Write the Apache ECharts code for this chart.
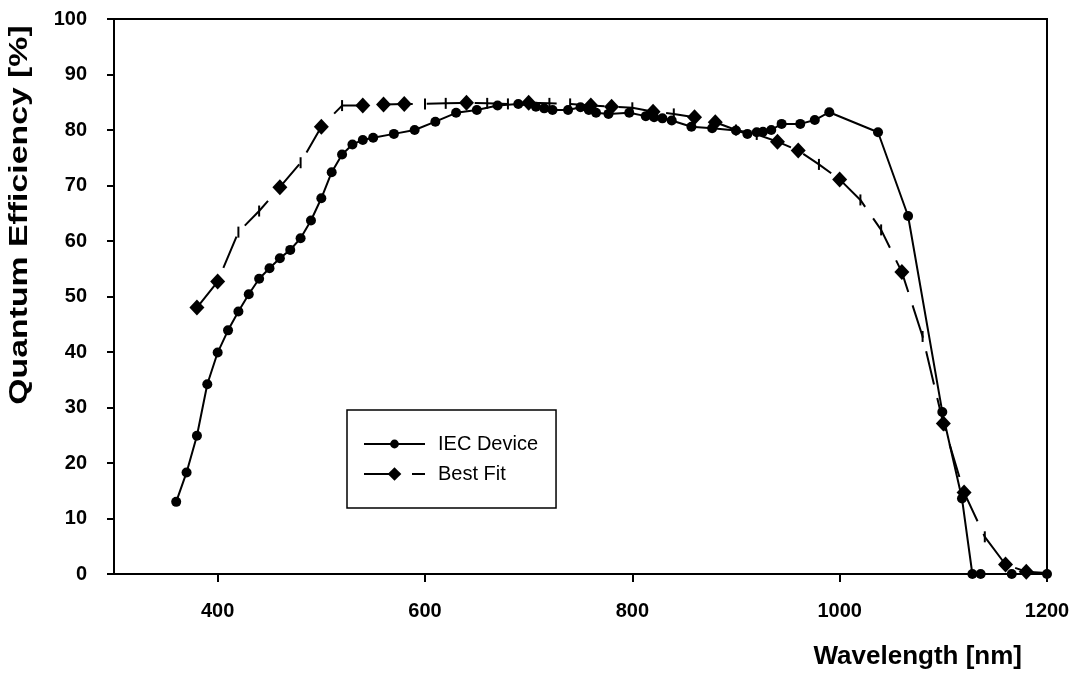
<!DOCTYPE html>
<html>
<head>
<meta charset="utf-8">
<script src="https://cdn.jsdelivr.net/npm/echarts@6.0.0/dist/echarts.min.js"></script>
<style>
  html, body { margin: 0; padding: 0; background: #fff; }
  #chart { width: 1081px; height: 673px; }
</style>
</head>
<body>
<div id="chart"></div>
<script>
// IEC device measurement
const iecWavelength = [360, 370, 380, 390, 400, 410, 420, 430, 440, 450, 460, 470, 480, 490, 500,
  510, 520, 530, 540, 550, 570, 590, 610, 630, 650, 670, 690, 707, 715, 723, 738, 750, 758, 765,
  777, 797, 813, 821, 829, 838, 857, 877, 900, 911, 920, 926, 934, 944, 962, 976, 990, 1037,
  1066, 1099, 1118, 1128, 1136, 1166, 1200];
const iecQE = [13.0, 18.3, 24.9, 34.2, 39.9, 43.9, 47.3, 50.4, 53.2, 55.1, 56.9, 58.4, 60.5, 63.7, 67.7,
  72.4, 75.6, 77.4, 78.2, 78.6, 79.3, 80.0, 81.5, 83.1, 83.6, 84.4, 84.7, 84.2, 83.9, 83.6, 83.6, 84.1, 83.6, 83.1,
  82.9, 83.1, 82.5, 82.3, 82.1, 81.7, 80.6, 80.3, 79.9, 79.3, 79.6, 79.7, 80.0, 81.1, 81.1, 81.8, 83.2, 79.6,
  64.5, 29.2, 13.6, 0, 0, 0, 0];

// best fit curve, every 20 nm
const fitWavelength = [380, 400, 420, 440, 460, 480, 500, 520, 540, 560, 580, 600, 620, 640, 660, 680,
  700, 720, 740, 760, 780, 800, 820, 840, 860, 880, 900, 920, 940, 960, 980, 1000, 1020, 1040,
  1060, 1080, 1100, 1120, 1140, 1160, 1180, 1200];
const fitQE = [48.0, 52.7, 61.6, 65.4, 69.7, 74.1, 80.6, 84.4, 84.4, 84.6, 84.7, 84.7, 84.8, 84.9, 84.8, 84.7,
  84.9, 84.8, 84.7, 84.4, 84.2, 84.0, 83.3, 82.9, 82.3, 81.4, 80.0, 79.2, 77.9, 76.3, 73.8, 71.1, 67.4, 62.0,
  54.4, 42.8, 27.1, 14.7, 6.7, 1.7, 0.4, 0.2];
// wavelengths where the fit carries a diamond marker (others only show a short tick)
const fitDiamondAt = [380, 400, 460, 500, 540, 560, 580, 640, 700, 760, 780, 820, 860, 880, 940, 960,
  1000, 1060, 1100, 1120, 1160, 1180];

const xTicks = [400, 600, 800, 1000, 1200];

const font = "'Liberation Sans', Arial, sans-serif";

const iecData = iecWavelength.map((w, i) => [w, iecQE[i]]);
const fitData = fitWavelength.map((w, i) => {
  if (fitDiamondAt.includes(w)) return [w, fitQE[i]];
  return { value: [w, fitQE[i]], symbol: "rect", symbolSize: [2, 11] };
});

const legendText = { fontFamily: font, fontSize: 20, color: "#000", padding: [0, 0, 0, 8] };

const chart = echarts.init(document.getElementById("chart"));
chart.setOption({
  animation: false,
  backgroundColor: "#fff",
  grid: {
    left: 114, right: 34, top: 19, bottom: 99,
    show: true, borderColor: "#000", borderWidth: 2,
  },
  xAxis: {
    type: "value",
    min: 300, max: 1200, interval: 100,
    axisLine: { lineStyle: { color: "#000", width: 2 } },
    axisTick: { customValues: xTicks, length: 8, lineStyle: { color: "#000", width: 2 } },
    axisLabel: {
      customValues: xTicks, margin: 27,
      formatter: (v) => String(v),
      color: "#000", fontFamily: font, fontWeight: "bold", fontSize: 20,
    },
    splitLine: { show: false },
  },
  yAxis: {
    type: "value",
    min: 0, max: 100, interval: 10,
    axisLine: { show: true, lineStyle: { color: "#000", width: 2 } },
    axisTick: { show: true, length: 7, lineStyle: { color: "#000", width: 2 } },
    axisLabel: {
      margin: 27, color: "#000", fontFamily: font, fontWeight: "bold", fontSize: 20,
    },
    splitLine: { show: false },
  },
  // two legends so each row can have its own marker size; the first one draws the frame
  legend: [
    {
      left: 347, top: 410,
      orient: "vertical",
      borderColor: "#000", borderWidth: 1.5,
      padding: [24, 18, 54, 16],
      itemWidth: 61, itemHeight: 11,
      textStyle: legendText,
      data: ["IEC Device"],
    },
    {
      left: 363, top: 464,
      orient: "vertical",
      padding: 0,
      itemWidth: 61, itemHeight: 17,
      textStyle: legendText,
      data: ["Best Fit"],
    },
  ],
  graphic: [
    {
      type: "text", x: 20, y: 215, rotation: Math.PI / 2, scaleX: 1.3,
      style: {
        text: "Quantum Efficiency [%]", fill: "#000",
        font: "bold 26px " + font, align: "center", verticalAlign: "middle",
      },
    },
    {
      type: "text", x: 1022, y: 657,
      style: {
        text: "Wavelength [nm]", fill: "#000",
        font: "bold 26px " + font, align: "right", verticalAlign: "middle",
      },
    },
  ],
  series: [
    {
      name: "Best Fit",
      type: "line",
      data: fitData,
      symbol: "diamond",
      symbolSize: [15, 16],
      color: "#000",
      lineStyle: { color: "#000", width: 2, type: [34, 14] },
      itemStyle: { color: "#000" },
      z: 2,
    },
    {
      name: "IEC Device",
      type: "line",
      data: iecData,
      symbol: "circle",
      symbolSize: 10,
      color: "#000",
      lineStyle: { color: "#000", width: 2 },
      itemStyle: { color: "#000" },
      z: 3,
    },
  ],
});
</script>
</body>
</html>
